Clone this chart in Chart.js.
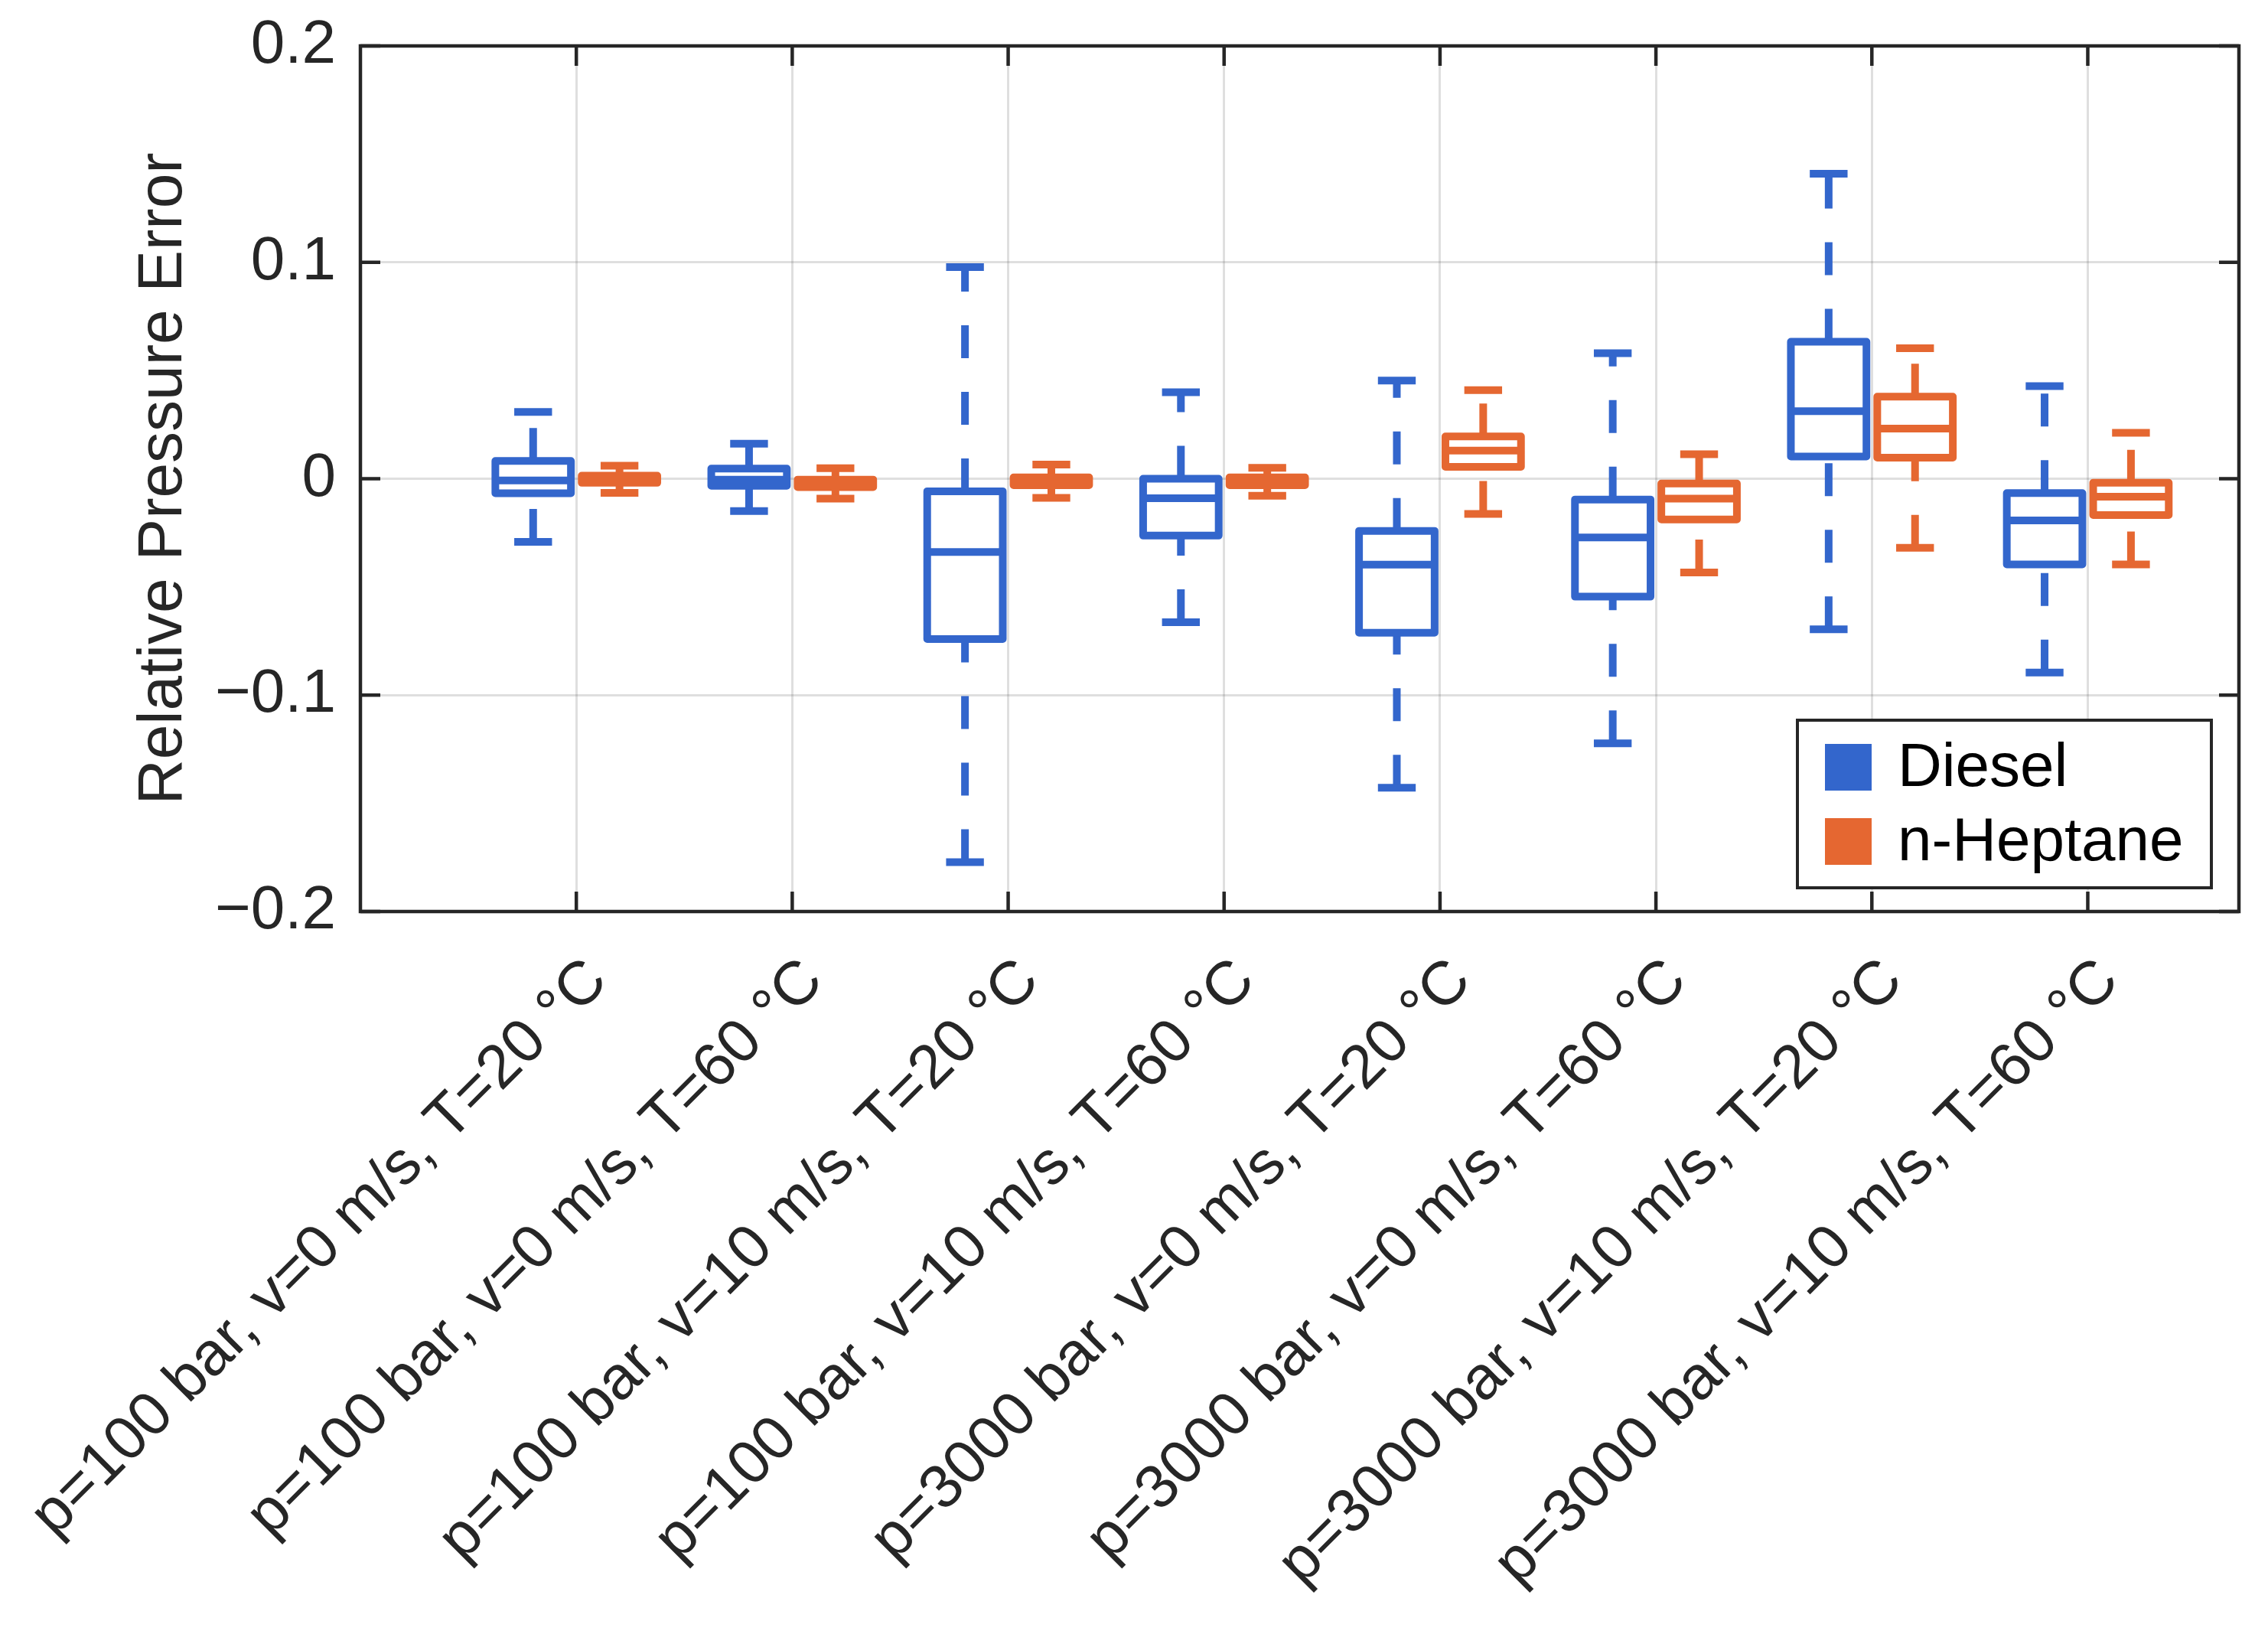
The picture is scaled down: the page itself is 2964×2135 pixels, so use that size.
<!DOCTYPE html>
<html>
<head>
<meta charset="utf-8">
<title>Relative Pressure Error</title>
<script src="https://cdn.jsdelivr.net/npm/chart.js@4/dist/chart.umd.min.js"></script>
<style>
    html, body { margin: 0; padding: 0; background: #fff; }
    canvas { display: block; }
</style>
</head>
<body>
<canvas id="boxChart" width="2964" height="2135"></canvas>
<script>
// Operating points (x categories)
const categories = [
    'p=100 bar, v=0 m/s, T=20 °C',
    'p=100 bar, v=0 m/s, T=60 °C',
    'p=100 bar, v=10 m/s, T=20 °C',
    'p=100 bar, v=10 m/s, T=60 °C',
    'p=3000 bar, v=0 m/s, T=20 °C',
    'p=3000 bar, v=0 m/s, T=60 °C',
    'p=3000 bar, v=10 m/s, T=20 °C',
    'p=3000 bar, v=10 m/s, T=60 °C'
];

// Diesel box statistics (upper whisker, q3, median, q1, lower whisker)
const dieselHigh = [0.0309, 0.0162, 0.0978, 0.0400, 0.0454, 0.0580, 0.1409, 0.0428];
const dieselQ3   = [0.0082, 0.0047, -0.0058, 0.0000, -0.0241, -0.0096, 0.0633, -0.0066];
const dieselMed  = [-0.0008, -0.0004, -0.0339, -0.0090, -0.0397, -0.0271, 0.0312, -0.0193];
const dieselQ1   = [-0.0067, -0.0033, -0.0741, -0.0263, -0.0712, -0.0545, 0.0103, -0.0396];
const dieselLow  = [-0.0292, -0.0149, -0.1772, -0.0663, -0.1428, -0.1223, -0.0696, -0.0896];

// n-Heptane box statistics
const heptaneHigh = [0.0060, 0.0049, 0.0065, 0.0050, 0.0409, 0.0113, 0.0603, 0.0212];
const heptaneQ3   = [0.0014, -0.0004, 0.0006, 0.0006, 0.0195, -0.0022, 0.0379, -0.0019];
const heptaneMed  = [0.0000, -0.0020, -0.0012, -0.0012, 0.0130, -0.0092, 0.0232, -0.0083];
const heptaneQ1   = [-0.0019, -0.0039, -0.0030, -0.0030, 0.0055, -0.0188, 0.0097, -0.0168];
const heptaneLow  = [-0.0065, -0.0092, -0.0088, -0.0079, -0.0163, -0.0433, -0.0319, -0.0396];

const yTicks = [-0.2, -0.1, 0, 0.1, 0.2];

const seriesNames = ['Diesel', 'n-Heptane'];
const seriesColors = ['#3366CC', '#E56731'];

const FONT = '"Liberation Sans", Arial, Helvetica, sans-serif';
const AXIS_COLOR = '#262626';
const GRID_COLOR = 'rgba(38, 38, 38, 0.15)';

const BOX_HALF = 0.175;   // half box width in category units
const CAP_HALF = 0.0875;  // half whisker cap width
const GROUP_OFFSET = 0.2; // distance of each box from the category tick

const GAP = () => ({ x: null, y: null });

// box outlines, medians and whisker caps (solid)
function buildBoxes(offset, hi, q3, med, q1, lo) {
    const pts = [];
    categories.forEach((_, i) => {
        const c = i + 1 + offset;
        pts.push({ x: c, y: q1[i] }, { x: c + BOX_HALF, y: q1[i] }, { x: c + BOX_HALF, y: q3[i] },
            { x: c - BOX_HALF, y: q3[i] }, { x: c - BOX_HALF, y: q1[i] }, { x: c, y: q1[i] }, GAP());
        pts.push({ x: c - BOX_HALF, y: med[i] }, { x: c + BOX_HALF, y: med[i] }, GAP());
        pts.push({ x: c - CAP_HALF, y: hi[i] }, { x: c + CAP_HALF, y: hi[i] }, GAP());
        pts.push({ x: c - CAP_HALF, y: lo[i] }, { x: c + CAP_HALF, y: lo[i] }, GAP());
    });
    return pts;
}

// whiskers (dashed), drawn bottom to top like the original
function buildWhiskers(offset, hi, q3, q1, lo) {
    const pts = [];
    categories.forEach((_, i) => {
        const c = i + 1 + offset;
        pts.push({ x: c, y: q3[i] }, { x: c, y: hi[i] }, GAP());
        pts.push({ x: c, y: lo[i] }, { x: c, y: q1[i] }, GAP());
    });
    return pts;
}

function lineSet(label, data, color, dashed) {
    return {
        label: label,
        data: data,
        showLine: true,
        spanGaps: false,
        borderColor: color,
        backgroundColor: color,
        borderWidth: 10,
        borderDash: dashed ? [43, 44] : [],
        borderCapStyle: 'butt',
        borderJoinStyle: 'round',
        pointRadius: 0,
        pointHoverRadius: 0,
        fill: false
    };
}

const datasets = [
    lineSet('Diesel whiskers', buildWhiskers(-GROUP_OFFSET, dieselHigh, dieselQ3, dieselQ1, dieselLow), seriesColors[0], true),
    lineSet('n-Heptane whiskers', buildWhiskers(GROUP_OFFSET, heptaneHigh, heptaneQ3, heptaneQ1, heptaneLow), seriesColors[1], true),
    lineSet('Diesel', buildBoxes(-GROUP_OFFSET, dieselHigh, dieselQ3, dieselMed, dieselQ1, dieselLow), seriesColors[0], false),
    lineSet('n-Heptane', buildBoxes(GROUP_OFFSET, heptaneHigh, heptaneQ3, heptaneMed, heptaneQ1, heptaneLow), seriesColors[1], false)
];
datasets.forEach((ds, i) => { ds.order = datasets.length - i; });

// full axes box with inward ticks, plus legend inside the plot
const axesBoxPlugin = {
    id: 'axesBox',
    afterDraw(chart) {
        const { ctx, chartArea: a, scales } = chart;
        const tick = 26;
        ctx.save();
        ctx.strokeStyle = AXIS_COLOR;
        ctx.lineWidth = 4.5;
        ctx.lineCap = 'butt';
        ctx.beginPath();
        scales.x.ticks.forEach(t => {
            const px = scales.x.getPixelForValue(t.value);
            ctx.moveTo(px, a.bottom); ctx.lineTo(px, a.bottom - tick);
            ctx.moveTo(px, a.top); ctx.lineTo(px, a.top + tick);
        });
        scales.y.ticks.forEach(t => {
            const py = scales.y.getPixelForValue(t.value);
            ctx.moveTo(a.left, py); ctx.lineTo(a.left + tick, py);
            ctx.moveTo(a.right, py); ctx.lineTo(a.right - tick, py);
        });
        ctx.stroke();
        ctx.strokeRect(a.left, a.top, a.right - a.left, a.bottom - a.top);

        // legend
        const w = 541, h = 219;
        const lx = a.right - 36 - w;
        const ly = a.bottom - 31 - h;
        ctx.fillStyle = '#ffffff';
        ctx.fillRect(lx, ly, w, h);
        ctx.lineWidth = 4;
        ctx.strokeRect(lx, ly, w, h);
        ctx.font = '80px ' + FONT;
        ctx.textBaseline = 'middle';
        ctx.textAlign = 'left';
        seriesNames.forEach((name, i) => {
            const cy = ly + 62 + i * 97;
            ctx.fillStyle = seriesColors[i];
            ctx.fillRect(lx + 36, cy - 31, 61, 61);
            ctx.fillStyle = '#000000';
            ctx.fillText(name, lx + 131, cy + 2);
        });
        ctx.restore();
    }
};

const chart = new Chart(document.getElementById('boxChart').getContext('2d'), {
    type: 'scatter',
    data: { datasets: datasets },
    options: {
        responsive: false,
        animation: false,
        devicePixelRatio: 1,
        layout: { padding: { top: 60, right: 38, left: 0, bottom: 0 } },
        plugins: {
            legend: { display: false },
            tooltip: { enabled: false }
        },
        scales: {
            x: {
                type: 'linear',
                min: 0,
                max: 8.7,
                afterBuildTicks: scale => { scale.ticks = categories.map((_, i) => ({ value: i + 1 })); },
                afterFit: scale => {
                    scale.height = 944;
                    scale.paddingLeft = 0;
                    scale.paddingRight = 0;
                    scale.paddingTop = 0;
                    scale.paddingBottom = 0;
                },
                border: { display: false },
                grid: { color: GRID_COLOR, lineWidth: 3, drawTicks: false },
                ticks: {
                    autoSkip: false,
                    minRotation: 45,
                    maxRotation: 45,
                    padding: 44,
                    labelOffset: 28,
                    color: AXIS_COLOR,
                    font: { family: FONT, size: 80 },
                    callback: v => categories[Math.round(v) - 1]
                }
            },
            y: {
                min: -0.2,
                max: 0.2,
                afterBuildTicks: scale => { scale.ticks = yTicks.map(v => ({ value: v })); },
                afterFit: scale => {
                    scale.width = 471;
                    scale.paddingLeft = 0;
                    scale.paddingRight = 0;
                    scale.paddingTop = 0;
                    scale.paddingBottom = 0;
                },
                border: { display: false },
                grid: { color: GRID_COLOR, lineWidth: 3, drawTicks: false },
                ticks: {
                    padding: 32,
                    color: AXIS_COLOR,
                    font: { family: FONT, size: 80 },
                    callback: v => v === 0 ? '0' : (v < 0 ? '\u2212' : '') + Math.abs(v).toFixed(1)
                },
                title: {
                    display: true,
                    text: 'Relative Pressure Error',
                    color: AXIS_COLOR,
                    font: { family: FONT, size: 82 },
                    padding: { top: 165, bottom: 0 }
                }
            }
        }
    },
    plugins: [axesBoxPlugin]
});
</script>
</body>
</html>
